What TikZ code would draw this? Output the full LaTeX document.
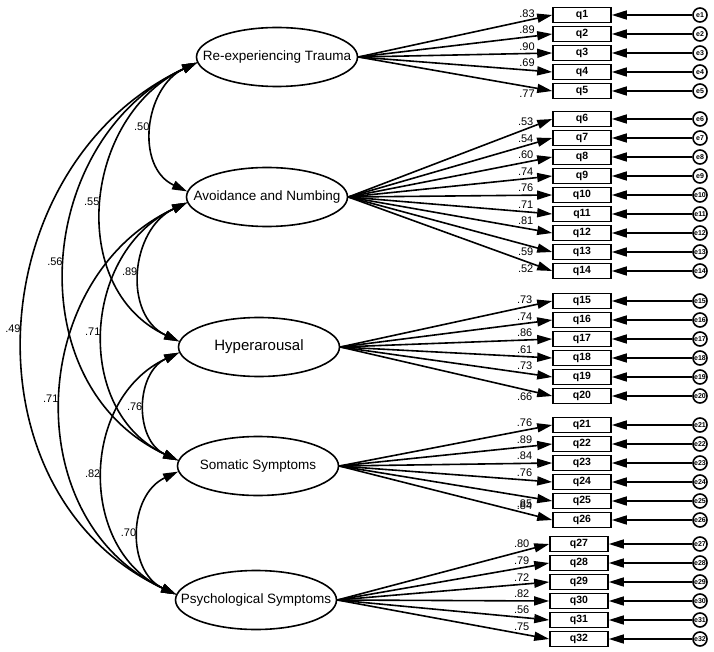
\documentclass[tikz,border=0pt]{standalone}
\usepackage{fontspec}
\setmainfont{Liberation Sans}
\usetikzlibrary{shapes.geometric,arrows.meta}

\begin{document}
\begin{tikzpicture}[x=1pt, y=1pt, line width=1.6pt,
    >={Triangle[length=15pt,width=9pt]},
    lat/.style={ellipse, draw, minimum width=161pt, minimum height=59pt, inner sep=0pt, font=\fontsize{13.5}{15}\selectfont},
    item/.style={rectangle, draw, minimum width=58pt, minimum height=15pt, inner sep=0pt, font=\fontsize{10.5}{11}\selectfont\bfseries},
    err/.style={circle, draw, minimum size=14pt, inner sep=0pt, font=\fontsize{7}{7}\selectfont\bfseries},
    coef/.style={font=\fontsize{11}{12}\selectfont, inner sep=2.5pt},
    cov/.style={<->, out=205, in=155, looseness=1.15}]
    \useasboundingbox (0,0) rectangle (714,-652);
    % Latent factors
    \node [lat] (rt) at (277,-57) {\makebox[0pt]{Re-experiencing Trauma}};
    \node [lat] (an) at (267,-197) {\makebox[0pt]{Avoidance and Numbing}};
    \node [lat, font=\fontsize{15}{17}\selectfont] (hy) at (259,-347) {\makebox[0pt]{Hyperarousal}};
    \node [lat] (ss) at (258,-466) {\makebox[0pt]{Somatic Symptoms}};
    \node [lat] (ps) at (256,-600) {\makebox[0pt]{Psychological Symptoms}};
    % Items and error terms
    \foreach \ytop/\first/\last/\bx in {15/1/5/582, 119/6/14/582, 301/15/20/582, 425/21/26/582, 544/27/32/579}
        \foreach \i in {\first,...,\last} {
            \node [item] (q\i) at ({\bx},{-\ytop-19*(\i-\first)}) {q\i};
            \node [err] (e\i) at (700,{-\ytop-19*(\i-\first)}) {e\i};
            \draw [->] (e\i) -- (q\i);
        }
    % Loadings
    \foreach \f/\i/\w/\s in {rt/1/.83/south, rt/2/.89/south, rt/3/.90/south, rt/4/.69/south, rt/5/.77/north,
                             an/6/.53/south, an/7/.54/south, an/8/.60/south, an/9/.74/south, an/10/.76/south,
                             an/11/.71/south, an/12/.81/south, an/13/.59/north, an/14/.52/north,
                             hy/15/.73/south, hy/16/.74/south, hy/17/.86/south, hy/18/.61/south, hy/19/.73/south, hy/20/.66/north,
                             ss/21/.76/south, ss/22/.89/south, ss/23/.84/south, ss/24/.76/south, ss/25/.85/north, ss/26/.84/south,
                             ps/27/.80/south, ps/28/.79/south, ps/29/.72/south, ps/30/.82/south, ps/31/.56/south, ps/32/.75/south}
        \draw [->] (\f.east) -- (q\i.west) node [coef, pos=.87, anchor=\s] {\w};
    % Correlations between factors
    \foreach \a/\b/\w in {rt/an/.50, rt/hy/.55, rt/ss/.56, rt/ps/.49, an/hy/.89,
                          an/ss/.71, an/ps/.71, hy/ss/.76, hy/ps/.82, ss/ps/.70}
        \draw [cov] (\a.184) to node [coef, midway, left] {\w} (\b.176);
\end{tikzpicture}
\end{document}
